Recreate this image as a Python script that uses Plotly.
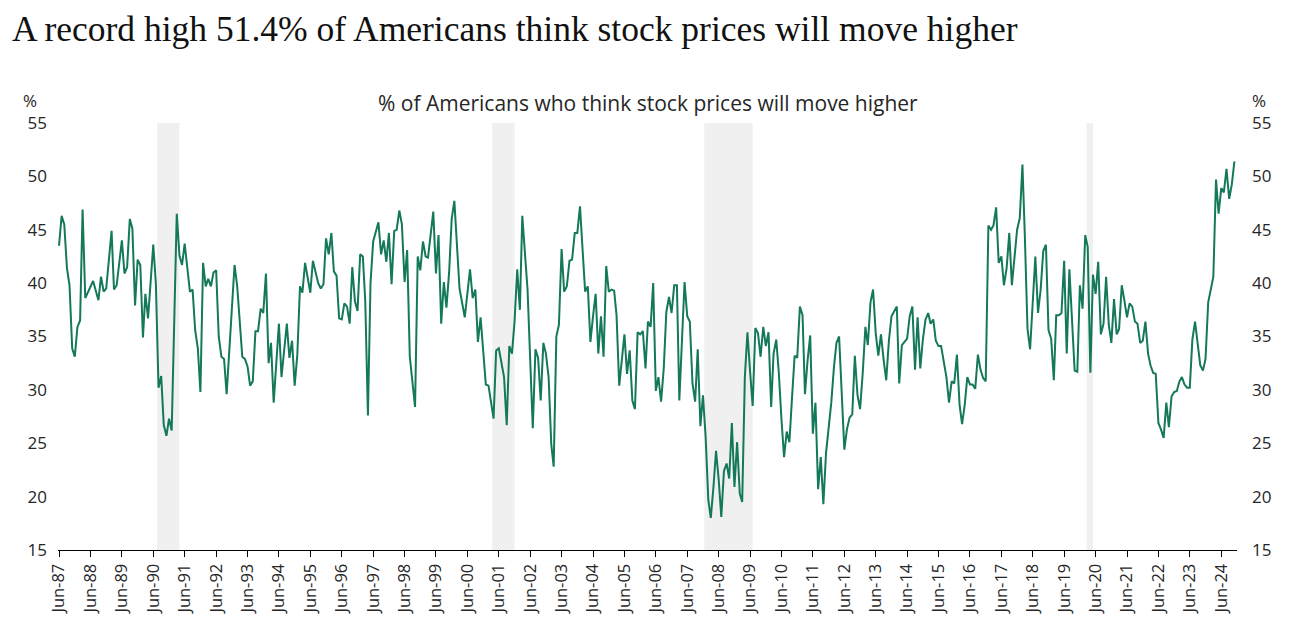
import pandas as pd
import plotly.graph_objects as go

# Monthly survey readings, Jun-1987 .. Nov-2024 (None = month not read off chart)
pct_higher = [
    # 1987 (Jun-Dec)
    43.5, 46.3, 45.5, 41.4, 39.8, 33.9, 33.1,
    # 1988
    35.9, 36.5, 46.9, 38.6, None, None, 40.2, None, 38.4, 40.6, 39.2, 39.5,
    # 1989
    None, 44.9, 39.4, 39.8, None, 44.0, 40.9, 41.5, 46.0, 45.1, 37.9, 42.2,
    # 1990
    41.7, 34.9, 39.0, 36.7, None, 43.6, 40.0, 30.2, 31.3, 26.7, 25.7, 27.3,
    # 1991
    26.2, None, 46.5, 42.6, 41.7, 43.7, None, 39.2, 39.4, 35.6, 33.9, 29.8,
    # 1992
    41.9, 39.7, 40.4, 39.7, 41.0, 41.2, 35.0, 33.1, 32.9, 29.6, None, None,
    # 1993
    41.7, 39.7, None, 33.1, 32.9, 32.2, 30.4, 30.8, 35.5, 35.5, 37.6, 37.2,
    # 1994
    40.9, 32.5, 34.4, 28.8, None, 36.2, 31.2, None, 36.2, 33.0, 34.6, 30.4,
    # 1995
    33.3, 39.7, 39.1, 41.9, None, 39.1, 42.1, None, 40.0, 39.5, 39.9, 44.2,
    # 1996
    42.7, 44.7, 41.1, 40.7, 36.7, 36.6, 38.1, 37.8, 36.2, 41.5, 38.3, 37.4,
    # 1997
    42.7, 42.5, 38.3, 27.6, 40.0, 43.9, None, 45.7, 42.7, 44.0, 42.0, 44.7,
    # 1998
    39.9, 44.9, 45.0, 46.8, 45.5, 40.1, 43.1, 33.1, None, 28.4, 42.5, 41.2,
    # 1999
    43.9, 42.5, 42.4, None, 46.7, 40.9, 44.5, 36.2, 40.1, 37.7, 41.0, 46.0,
    # 2000
    47.7, None, 39.5, None, 36.8, None, 41.3, 38.6, 39.4, 34.5, 36.8, None,
    # 2001
    30.5, 30.4, None, 27.3, 33.7, 33.9, None, 31.2, 26.7, 34.1, 33.4, 36.4,
    # 2002
    41.3, 37.5, 46.3, None, 39.4, None, 26.4, 33.8, 33.0, 29.0, 34.4, 33.4,
    # 2003
    31.2, 24.9, 22.8, 35.0, 36.1, 43.2, 39.2, 39.7, 42.1, 42.2, 44.7, 44.7,
    # 2004
    47.2, 43.0, 39.2, 39.7, 34.5, 36.9, 39.0, 33.4, 36.9, 33.1, 41.6, 39.2,
    # 2005
    39.4, 39.3, 37.0, 30.4, 32.7, 35.2, 31.5, 33.7, 29.0, 28.2, 35.4, 35.2,
    # 2006
    35.5, 32.0, 36.4, 35.9, 40.0, 29.9, 31.2, 28.9, 32.0, 37.3, 38.7, 37.2,
    # 2007
    39.8, 39.8, 29.0, 35.3, 40.1, 36.9, 36.4, 30.6, 28.9, 33.8, 26.6, 29.5,
    # 2008
    25.6, 19.7, 18.0, 20.9, 24.3, 21.6, 18.1, 22.4, 23.1, 21.7, 26.9, 20.9,
    # 2009
    25.1, 20.3, 19.5, 31.2, 35.4, 31.7, 28.5, 35.8, 35.3, 33.1, 35.9, 34.1,
    # 2010
    35.4, 28.4, 33.4, 34.7, 31.6, 27.2, 23.7, 26.1, 25.1, 29.2, 33.2, 33.0,
    # 2011
    37.8, 37.0, 29.6, 32.8, 35.1, 25.9, 28.8, 20.7, 23.7, 19.3, 24.1, 26.4,
    # 2012
    28.8, 32.1, 34.4, 35.0, 29.4, 24.4, 26.3, 27.4, 27.7, 33.2, 29.5, 28.2,
    # 2013
    31.6, 35.9, 34.2, 38.2, 39.4, 35.3, 33.2, 35.2, 32.8, 30.9, 34.6, 36.9,
    # 2014
    None, 37.8, 30.6, 34.2, 34.5, 34.8, 36.9, 37.8, 31.9, 36.8, 32.0, 34.7,
    # 2015
    36.6, 37.2, 36.2, 36.6, 34.6, 34.1, 34.1, 32.7, 31.2, 28.8, 30.8, 30.6,
    # 2016
    33.3, 28.6, 26.8, 28.6, 31.2, 30.5, 30.5, 30.1, 33.3, 31.9, 31.1, 30.8,
    # 2017
    45.4, 45.0, 45.4, 47.1, 41.9, 42.5, 39.8, 41.4, 44.7, 39.8, 42.5, 45.0,
    # 2018
    46.1, 51.1, 44.4, 35.7, 33.8, 38.2, 42.5, 37.2, 39.4, 43.0, 43.6, 35.6,
    # 2019
    34.8, 30.9, 37.0, 37.0, 37.2, 42.1, 33.4, 41.3, 36.7, 31.8, 31.7, 39.8,
    # 2020
    37.6, 44.5, 43.4, 31.6, 40.8, 39.0, 42.0, 35.2, 36.2, 40.6, 36.1, 34.4,
    # 2021
    38.5, 35.2, 35.7, 39.8, 38.4, 36.8, 38.1, 37.8, 36.4, 36.2, 34.4, 34.6,
    # 2022
    36.4, 33.4, 32.3, 31.6, 31.5, 26.9, 26.3, 25.5, 28.8, 26.5, 29.4, 29.8,
    # 2023
    29.9, 30.8, 31.2, 30.5, 30.2, 30.2, 34.7, 36.4, 34.3, 32.3, 31.8, 32.9,
    # 2024 (Jan-Nov)
    38.2, 39.4, 40.6, 49.7, 46.5, 48.9, 48.5, 50.7, 47.9, 49.2, 51.4,
]
series_start = "1987-06-01"

# US recessions (first and last month)
recession_start = ["1990-07-01", "2001-03-01", "2007-12-01", "2020-02-01"]
recession_end = ["1991-03-01", "2001-11-01", "2009-06-01", "2020-04-01"]

y_ticks = [15, 20, 25, 30, 35, 40, 45, 50, 55]

dates = pd.date_range(series_start, periods=len(pct_higher), freq="MS")
tick_dates = pd.date_range("1987-06-01", "2024-06-01", freq="12MS")
tick_text = [d.strftime("%b-%y") for d in tick_dates]

LINE = "#14785a"
TXT = "#262626"
SANS = "Open Sans, Noto Sans, sans-serif"

fig = go.Figure()
fig.add_trace(go.Scatter(
    x=dates, y=pct_higher, mode="lines", connectgaps=True,
    line=dict(color=LINE, width=2), hoverinfo="x+y", showlegend=False,
))
# invisible twin so the right-hand axis is rendered
fig.add_trace(go.Scatter(
    x=dates, y=pct_higher, mode="lines", connectgaps=True, yaxis="y2",
    line=dict(color="rgba(0,0,0,0)", width=0), hoverinfo="skip", showlegend=False,
))

for s, e in zip(recession_start, recession_end):
    x0 = pd.Timestamp(s) + pd.Timedelta(days=15)
    x1 = pd.Timestamp(e) + pd.DateOffset(months=1)
    fig.add_shape(type="rect", xref="x", yref="paper", x0=x0, x1=x1, y0=0, y1=1,
                  fillcolor="#f0f0f0", line=dict(width=0), layer="below")

yax = dict(range=[15, 55], tickvals=y_ticks, showgrid=False, zeroline=False,
           showline=False, ticks="", tickfont=dict(family=SANS, size=17, color=TXT))

fig.update_layout(
    width=1298, height=638,
    margin=dict(l=50, r=69, t=115, b=96),
    paper_bgcolor="white", plot_bgcolor="white",
    title=dict(text="A record high 51.4% of Americans think stock prices will move higher",
               xref="container", yref="container", x=0.003, xanchor="left",
               y=1.0, yanchor="top", pad=dict(l=0, t=8, b=0, r=0),
               font=dict(family="Liberation Serif, Times New Roman, serif", size=35.5, color="#111")),
    xaxis=dict(type="date",
               range=[pd.Timestamp("1987-05-20"), pd.Timestamp("2024-12-01")],
               tickvals=tick_dates, ticktext=tick_text, tickangle=-90,
               ticks="outside", ticklen=6, tickcolor="black", tickwidth=1,
               showline=True, linecolor="black", linewidth=1.2,
               showgrid=False, zeroline=False,
               tickfont=dict(family=SANS, size=16.5, color=TXT)),
    yaxis=dict(side="left", ticklabelstandoff=10, **yax),
    yaxis2=dict(side="right", overlaying="y", ticklabelstandoff=14, **yax),
    annotations=[
        dict(text="% of Americans who think stock prices will move higher",
             xref="paper", yref="paper", x=0.5, y=1, yshift=20,
             xanchor="center", yanchor="middle", showarrow=False,
             font=dict(family=SANS, size=21, color=TXT)),
        dict(text="%", xref="paper", yref="paper", x=-0.024, y=1, yshift=23,
             xanchor="center", yanchor="middle", showarrow=False,
             font=dict(family=SANS, size=17, color=TXT)),
        dict(text="%", xref="paper", yref="paper", x=1.019, y=1, yshift=23,
             xanchor="center", yanchor="middle", showarrow=False,
             font=dict(family=SANS, size=17, color=TXT)),
    ],
)

fig.write_html("out.html")
